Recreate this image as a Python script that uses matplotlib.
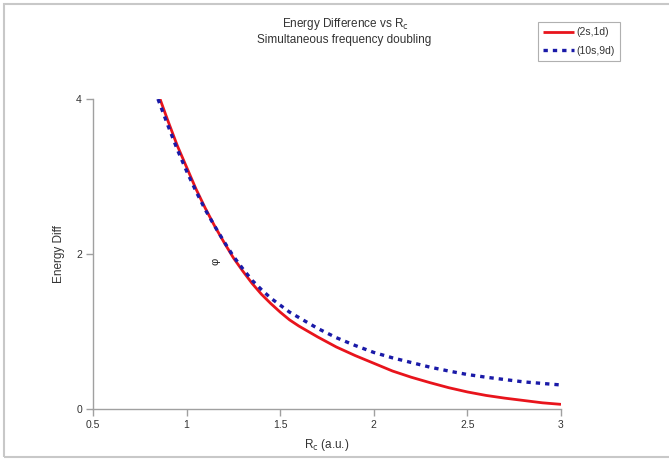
import matplotlib
matplotlib.use("Agg")
import matplotlib.pyplot as plt
from matplotlib.patches import Rectangle

plt.rcParams['font.family'] = ['Liberation Sans', 'DejaVu Sans']

red_x = [0.858, 0.90, 0.95, 1.00, 1.05, 1.10, 1.15, 1.20, 1.25, 1.30, 1.35, 1.40, 1.45, 1.50,
         1.55, 1.60, 1.70, 1.80, 1.90, 2.00, 2.10, 2.20, 2.30, 2.40, 2.50, 2.60, 2.70, 2.80, 2.90, 3.00]
red_y = [4.00, 3.72, 3.40, 3.12, 2.84, 2.59, 2.36, 2.15, 1.95, 1.78, 1.62, 1.48, 1.36, 1.25,
         1.15, 1.07, 0.93, 0.80, 0.69, 0.59, 0.49, 0.41, 0.34, 0.275, 0.22, 0.175, 0.14, 0.11, 0.08, 0.06]
blue_x = [0.847, 0.90, 0.95, 1.00, 1.05, 1.10, 1.15, 1.20, 1.25, 1.30, 1.35, 1.40, 1.45, 1.50,
          1.55, 1.60, 1.70, 1.80, 1.90, 2.00, 2.10, 2.20, 2.30, 2.40, 2.50, 2.60, 2.70, 2.80, 2.90, 3.00]
blue_y = [4.00, 3.66, 3.35, 3.07, 2.81, 2.57, 2.36, 2.16, 1.97, 1.81, 1.66, 1.54, 1.43, 1.34,
          1.25, 1.18, 1.04, 0.92, 0.82, 0.73, 0.66, 0.60, 0.54, 0.49, 0.445, 0.41, 0.38, 0.35, 0.33, 0.31]
label_red = "(2s,1d)"
label_blue = "(10s,9d)"
xticks = [0.5, 1, 1.5, 2, 2.5, 3]
xticklabels = ['0.5', '1', '1.5', '2', '2.5', '3']
yticks = [0, 2, 4]
stray_x, stray_y = 1.157, 1.90

W, H = 669, 459
fig = plt.figure(figsize=(W / 100, H / 100), dpi=100)
fig.patch.set_facecolor('white')
fig.patches.append(Rectangle((4 / W, 2 / H), 1.2, (455 - 2) / H, transform=fig.transFigure,
                             fill=False, edgecolor='#c8c8c8', linewidth=1.5))

ax = fig.add_axes([93 / W, (H - 409) / H, 468 / W, 310 / H])
ax.plot(red_x, red_y, color='#e8141c', linewidth=2.0, label=label_red, solid_capstyle='butt')
ax.plot(blue_x, blue_y, color='#1a1aa8', linewidth=2.4, linestyle=(0, (1.3, 1.5)), label=label_blue)
ax.text(stray_x, stray_y, "φ", rotation=90, fontsize=8, ha='center', va='center', color='#222222')

ax.set_xlim(0.5, 3)
ax.set_ylim(0, 4)
ax.set_xticks(xticks)
ax.set_xticklabels(xticklabels)
ax.set_yticks(yticks)
for s in ['top', 'right']:
    ax.spines[s].set_visible(False)
for s in ['left', 'bottom']:
    ax.spines[s].set_color('#a0a0a0')
    ax.spines[s].set_linewidth(1.0)
ax.tick_params(direction='out', length=5, width=1, color='#a0a0a0', labelsize=7.5,
               labelcolor='#333333', pad=3)

ax.set_xlabel(r"R$_{\rm c}$ (a.u.)", fontsize=8.5, color='#333333', labelpad=5)
ax.set_ylabel("Energy Diff", fontsize=8.5, color='#333333', labelpad=8)

fig.text(345 / W, 1 - 24 / H, r"Energy Difference vs R$_{\rm c}$", ha='center', va='center',
         fontsize=8.5, color='#333333')
fig.text(344 / W, 1 - 40 / H, "Simultaneous frequency doubling", ha='center', va='center',
         fontsize=8.5, color='#333333')

leg = fig.legend(loc='upper left', bbox_to_anchor=(538 / W, 1 - 22 / H), borderaxespad=0,
                 fancybox=False, edgecolor='#b0b0b0', fontsize=7.5, handlelength=3.0,
                 handletextpad=0.15, borderpad=0.5, labelspacing=0.8, framealpha=1)
leg.get_frame().set_linewidth(0.8)
for t in leg.get_texts():
    t.set_color('#333333')

fig.savefig("out.png", dpi=100, facecolor='white')
